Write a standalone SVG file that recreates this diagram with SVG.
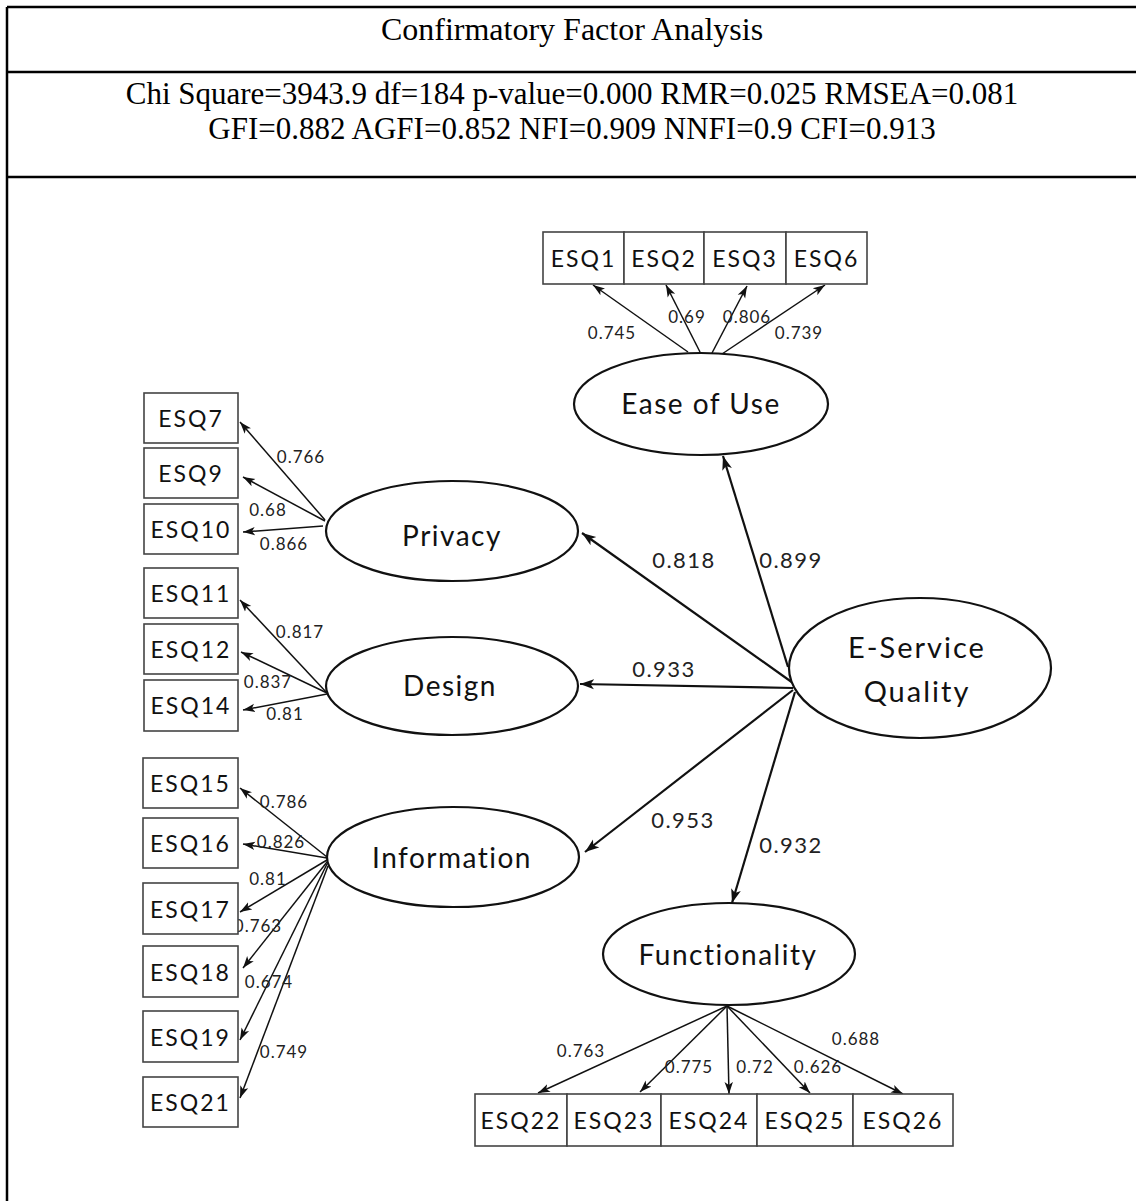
<svg xmlns="http://www.w3.org/2000/svg" width="1136" height="1201" viewBox="0 0 1136 1201">
<style>
.hdr{font-family:"Liberation Serif","Times New Roman",serif;font-size:32px;fill:#000;text-anchor:middle}
.hdr.s{font-size:31px}
.box rect{fill:#fff;stroke:#444;stroke-width:1.6}
.box text{font-family:Lato,"Noto Sans",sans-serif;font-size:23px;letter-spacing:2px;fill:#111;text-anchor:middle}
.lat ellipse{fill:#fff;stroke:#111;stroke-width:2.2}
.lat text{font-family:Lato,"Noto Sans",sans-serif;font-size:28px;letter-spacing:1.5px;fill:#111;text-anchor:middle}
.big text{font-size:29px;letter-spacing:2px}
.w{font-family:Lato,"Noto Sans",sans-serif;font-size:17px;letter-spacing:1px;fill:#222;text-anchor:middle}
.wb{font-family:Lato,"Noto Sans",sans-serif;font-size:22px;letter-spacing:1.5px;fill:#222;text-anchor:middle}
.c line{stroke:#111;stroke-width:1.5;marker-end:url(#ah)}
.c line.h{stroke-width:2.2;marker-end:url(#ahb)}
</style>
<defs>
<marker id="ah" markerUnits="userSpaceOnUse" markerWidth="14" markerHeight="10" refX="12" refY="5" orient="auto">
<path d="M0,0.8 L12,5 L0,9.2 L3,5 z" fill="#111"/>
</marker>
<marker id="ahb" markerUnits="userSpaceOnUse" markerWidth="16" markerHeight="12" refX="14" refY="6" orient="auto">
<path d="M0,1 L14,6 L0,11 L3.5,6 z" fill="#111"/>
</marker>
</defs>
<rect x="0" y="0" width="1136" height="1201" fill="#fff"/>
<g id="table">
<path d="M7,7 H1136 M7,72 H1136 M7,177 H1136 M7,7 V1201" stroke="#000" stroke-width="2.5" fill="none"/>
<text class="hdr" x="572" y="40">Confirmatory Factor Analysis</text>
<text class="hdr s" x="572" y="104">Chi Square=3943.9 df=184 p-value=0.000 RMR=0.025 RMSEA=0.081</text>
<text class="hdr s" x="572" y="139">GFI=0.882 AGFI=0.852 NFI=0.909 NNFI=0.9 CFI=0.913</text>
</g>
<g id="connectors" class="c">
<line x1="688" y1="352" x2="593" y2="285"/>
<line x1="700" y1="352" x2="666" y2="285"/>
<line x1="712" y1="353" x2="747" y2="286"/>
<line x1="722" y1="354" x2="825" y2="285"/>
<line class="h" x1="788" y1="667" x2="723" y2="456"/>
<line class="h" x1="793" y1="683" x2="582" y2="533"/>
<line class="h" x1="793" y1="688" x2="580" y2="684"/>
<line class="h" x1="793" y1="690" x2="585" y2="852"/>
<line class="h" x1="795" y1="692" x2="732" y2="903"/>
<line x1="325" y1="520" x2="240" y2="422"/>
<line x1="325" y1="521" x2="243" y2="477"/>
<line x1="323" y1="526" x2="243" y2="532"/>
<line x1="327" y1="693" x2="240" y2="600"/>
<line x1="327" y1="693" x2="241" y2="652"/>
<line x1="327" y1="694" x2="243" y2="710"/>
<line x1="327" y1="857" x2="240" y2="788"/>
<line x1="327" y1="858" x2="243" y2="844"/>
<line x1="327" y1="860" x2="240" y2="912"/>
<line x1="327" y1="862" x2="243" y2="968"/>
<line x1="327" y1="864" x2="240" y2="1040"/>
<line x1="328" y1="866" x2="240" y2="1098"/>
<line x1="727" y1="1006" x2="538" y2="1093"/>
<line x1="727" y1="1006" x2="640" y2="1092"/>
<line x1="727" y1="1006" x2="729" y2="1094"/>
<line x1="727" y1="1006" x2="810" y2="1093"/>
<line x1="727" y1="1006" x2="903" y2="1094"/>
</g>
<g id="weights">
<text class="w" x="612" y="339">0.745</text>
<text class="w" x="687" y="323">0.69</text>
<text class="w" x="747" y="323">0.806</text>
<text class="w" x="799" y="339">0.739</text>
<text class="w" x="301" y="463">0.766</text>
<text class="w" x="268" y="516">0.68</text>
<text class="w" x="284" y="550">0.866</text>
<text class="w" x="300" y="638">0.817</text>
<text class="w" x="268" y="688">0.837</text>
<text class="w" x="285" y="720">0.81</text>
<text class="w" x="284" y="808">0.786</text>
<text class="w" x="281" y="848">0.826</text>
<text class="w" x="268" y="885">0.81</text>
<text class="w" x="258" y="932">0.763</text>
<text class="w" x="269" y="988">0.674</text>
<text class="w" x="284" y="1058">0.749</text>
<text class="w" x="581" y="1057">0.763</text>
<text class="w" x="689" y="1073">0.775</text>
<text class="w" x="755" y="1073">0.72</text>
<text class="w" x="818" y="1073">0.626</text>
<text class="w" x="856" y="1045">0.688</text>
<text class="wb" x="684" y="568">0.818</text>
<text class="wb" x="791" y="568">0.899</text>
<text class="wb" x="664" y="677">0.933</text>
<text class="wb" x="683" y="828">0.953</text>
<text class="wb" x="791" y="853">0.932</text>
</g>
<g id="n-esq1" class="box"><rect x="543" y="232" width="81" height="52"/><text x="583.5" y="267">ESQ1</text></g>
<g id="n-esq2" class="box"><rect x="624" y="232" width="80" height="52"/><text x="664" y="267">ESQ2</text></g>
<g id="n-esq3" class="box"><rect x="704" y="232" width="82" height="52"/><text x="745" y="267">ESQ3</text></g>
<g id="n-esq6" class="box"><rect x="786" y="232" width="81" height="52"/><text x="826.5" y="267">ESQ6</text></g>
<g id="n-esq7" class="box"><rect x="144" y="393" width="94" height="50"/><text x="191" y="427">ESQ7</text></g>
<g id="n-esq9" class="box"><rect x="144" y="448" width="94" height="50"/><text x="191" y="482">ESQ9</text></g>
<g id="n-esq10" class="box"><rect x="144" y="504" width="94" height="50"/><text x="191" y="538">ESQ10</text></g>
<g id="n-esq11" class="box"><rect x="144" y="568" width="94" height="50"/><text x="191" y="602">ESQ11</text></g>
<g id="n-esq12" class="box"><rect x="144" y="624" width="94" height="50"/><text x="191" y="658">ESQ12</text></g>
<g id="n-esq14" class="box"><rect x="144" y="680" width="94" height="51"/><text x="191" y="714">ESQ14</text></g>
<g id="n-esq15" class="box"><rect x="143" y="758" width="95" height="50"/><text x="190.5" y="792">ESQ15</text></g>
<g id="n-esq16" class="box"><rect x="143" y="818" width="95" height="50"/><text x="190.5" y="852">ESQ16</text></g>
<g id="n-esq17" class="box"><rect x="143" y="883" width="95" height="51"/><text x="190.5" y="918">ESQ17</text></g>
<g id="n-esq18" class="box"><rect x="143" y="946" width="95" height="51"/><text x="190.5" y="981">ESQ18</text></g>
<g id="n-esq19" class="box"><rect x="143" y="1011" width="95" height="51"/><text x="190.5" y="1046">ESQ19</text></g>
<g id="n-esq21" class="box"><rect x="143" y="1077" width="95" height="50"/><text x="190.5" y="1111">ESQ21</text></g>
<g id="n-esq22" class="box"><rect x="475" y="1094" width="92" height="52"/><text x="521" y="1129">ESQ22</text></g>
<g id="n-esq23" class="box"><rect x="567" y="1094" width="94" height="52"/><text x="614" y="1129">ESQ23</text></g>
<g id="n-esq24" class="box"><rect x="661" y="1094" width="96" height="52"/><text x="709" y="1129">ESQ24</text></g>
<g id="n-esq25" class="box"><rect x="757" y="1094" width="96" height="52"/><text x="805" y="1129">ESQ25</text></g>
<g id="n-esq26" class="box"><rect x="853" y="1094" width="100" height="52"/><text x="903" y="1129">ESQ26</text></g>
<g id="n-ease" class="lat"><ellipse cx="701" cy="404" rx="127" ry="51"/><text x="701" y="414">Ease of Use</text></g>
<g id="n-privacy" class="lat"><ellipse cx="452" cy="531" rx="126" ry="50"/><text x="452" y="546">Privacy</text></g>
<g id="n-design" class="lat"><ellipse cx="452" cy="686" rx="126" ry="49"/><text x="450" y="696">Design</text></g>
<g id="n-information" class="lat"><ellipse cx="453" cy="857" rx="126" ry="50"/><text x="452" y="868">Information</text></g>
<g id="n-functionality" class="lat"><ellipse cx="729" cy="954" rx="126" ry="51"/><text x="728" y="965">Functionality</text></g>
<g id="n-esq" class="lat big"><ellipse cx="920" cy="668" rx="131" ry="70"/><text x="917" y="658">E-Service</text><text x="917" y="702">Quality</text></g>
</svg>
